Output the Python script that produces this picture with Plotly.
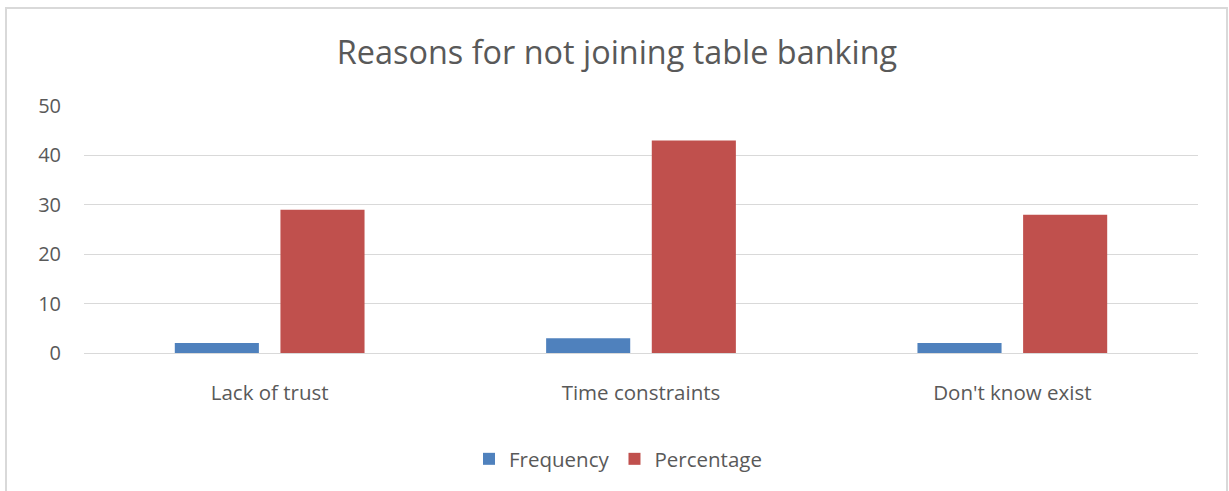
import plotly.graph_objects as go

categories = ["Lack of trust", "Time constraints", "Don't know exist"]
frequency = [2, 3, 2]
percentage = [29, 43, 28]
y_ticks = [0, 10, 20, 30, 40, 50]

W, H = 1229, 491
L, R, T, B = 84, 31, 106, 138
pw, ph = W - L - R, H - T - B

def px_x(x):
    return (x - L) / pw

def px_y(y):
    return (H - B - y) / ph

font = "'Open Sans', sans-serif"
grey = "#595959"

fig = go.Figure()
fig.add_bar(x=categories, y=frequency, name="Frequency", marker_color="#4f81bd",
            marker_line_width=0)
fig.add_bar(x=categories, y=percentage, name="Percentage", marker_color="#c0504d",
            marker_line_width=0)

fig.update_layout(
    width=W, height=H,
    margin=dict(l=L, r=R, t=T, b=B, pad=0),
    paper_bgcolor="white", plot_bgcolor="white",
    barmode="group", bargap=0.431, bargroupgap=0.204,
    title=dict(text="Reasons for not joining table banking", x=px_x(617), xref="paper",
               xanchor="center", y=1 - 53 / H, yanchor="middle",
               font=dict(family=font, size=32.4, color=grey)),
    font=dict(family=font, size=20, color=grey),
    showlegend=True,
    legend=dict(orientation="h", x=px_x(618), y=px_y(459), xanchor="center",
                yanchor="middle", xref="paper", yref="paper",
                font=dict(family=font, size=20.5, color=grey),
                itemwidth=30, traceorder="normal"),
    xaxis=dict(showgrid=False, showline=True, linecolor="#d9d9d9", linewidth=1,
               ticks="outside", ticklen=21, tickcolor="rgba(0,0,0,0)",
               tickfont=dict(size=20.5, color=grey), fixedrange=True),
    yaxis=dict(range=[0, 50], tickvals=y_ticks, showgrid=True, gridcolor="#d9d9d9",
               gridwidth=1, zeroline=False, showline=False, ticks="outside",
               ticklen=18, tickcolor="rgba(0,0,0,0)",
               tickfont=dict(size=20, color=grey)),
    shapes=[dict(type="rect", xref="paper", yref="paper",
                 x0=px_x(6), x1=px_x(1227), y0=px_y(500), y1=px_y(8),
                 line=dict(color="#d9d9d9", width=2), fillcolor="rgba(0,0,0,0)",
                 layer="below")],
)

fig.write_html("out.html")
